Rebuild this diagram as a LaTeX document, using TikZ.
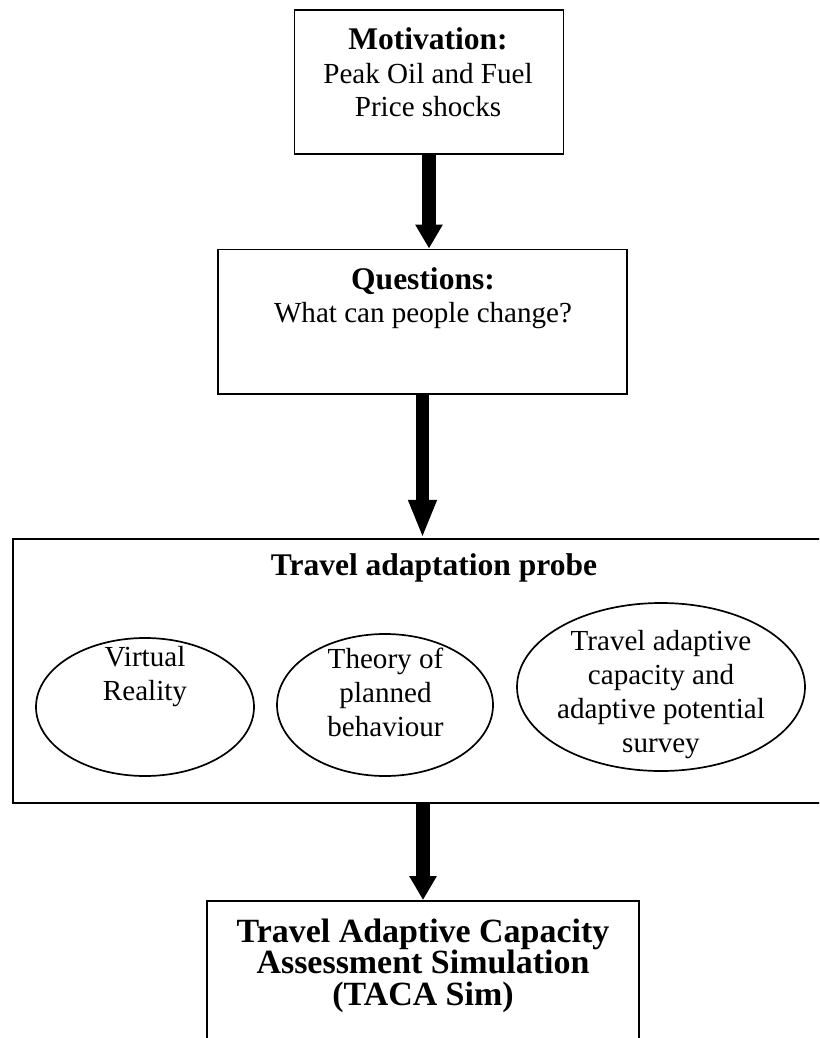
\documentclass[tikz,border=0pt]{standalone}
\usepackage{fontspec}
\setmainfont{Liberation Serif}
\usetikzlibrary{arrows.meta}
\usetikzlibrary{positioning}
\usetikzlibrary{shapes.geometric}
\newlength{\px}
\setlength{\px}{0.4125pt}
\tikzset{box/.style = {draw, line width = 0.8pt, inner sep = 0}}
\tikzset{oval/.style = {draw, ellipse, line width = 0.7pt, inner sep = 0}}
\tikzset{bigarrow/.style = {line width = 5.6pt, -{Triangle[length = 9.9pt, width = 10.7pt]}}}
\tikzset{body/.style = {align = center, font = \fontsize{12}{13.9}\selectfont, anchor = base}}
\tikzset{head/.style = {font = \fontsize{13}{15}\selectfont\bfseries, anchor = base}}

\begin{document}
\begin{tikzpicture}[x = 0.4125pt, y = -0.4125pt]
  \useasboundingbox (0, 0) rectangle (819, 1038);
  \clip (0, 0) rectangle (819, 1038);

  % motivation and questions (text placed by its last baseline)
  \node [box, minimum width = 269*\px, minimum height = 144*\px] (motiv) at (429, 82) {};
  \node [body] (motivtxt) at (428, 117) {\textbf{\fontsize{13}{15}\selectfont Motivation:}\\ Peak Oil and Fuel\\ Price shocks};

  \node [box, minimum width = 409*\px, minimum height = 144.5*\px] (quest) at (422.5, 321.75) {};
  \node [body] (questtxt) at (423, 323) {\textbf{\fontsize{13}{15}\selectfont Questions:}\\ What can people change?};

  % the probe and its three parts
  \node [box, minimum width = 842*\px, minimum height = 264*\px] (probe) at (434, 671) {};
  \node [head] (probetxt) at (434, 575) {Travel adaptation probe};

  \node [oval, minimum width = 218*\px, minimum height = 138*\px] (vr) at (145, 707) {};
  \node [body] (vrtxt) at (145, 700) {Virtual\\ Reality};
  \node [oval, minimum width = 216*\px, minimum height = 142*\px] (tpb) at (385, 705) {};
  \node [body] (tpbtxt) at (385.5, 736) {Theory of\\ planned\\ behaviour};
  \node [oval, minimum width = 288*\px, minimum height = 168*\px] (survey) at (661, 687) {};
  \node [body] (surveytxt) at (661, 752) {Travel adaptive\\ capacity and\\ adaptive potential\\ survey};

  % simulation
  \node [box, minimum width = 432*\px, minimum height = 180*\px] (taca) at (423, 991) {};
  \node [body, font = \fontsize{14}{12.8}\selectfont\bfseries] (tacatxt) at (423, 1005) {Travel Adaptive Capacity\\ Assessment Simulation\\ (TACA Sim)};

  \draw [bigarrow] (motiv.south) -- (motiv.south |- quest.north);
  \draw [bigarrow, -{Triangle[length = 15.7pt, width = 10.7pt]}] (quest.south) -- (quest.south |- probe.north);
  \draw [bigarrow] (probe.south -| taca.north) -- (taca.north);
\end{tikzpicture}
\end{document}
